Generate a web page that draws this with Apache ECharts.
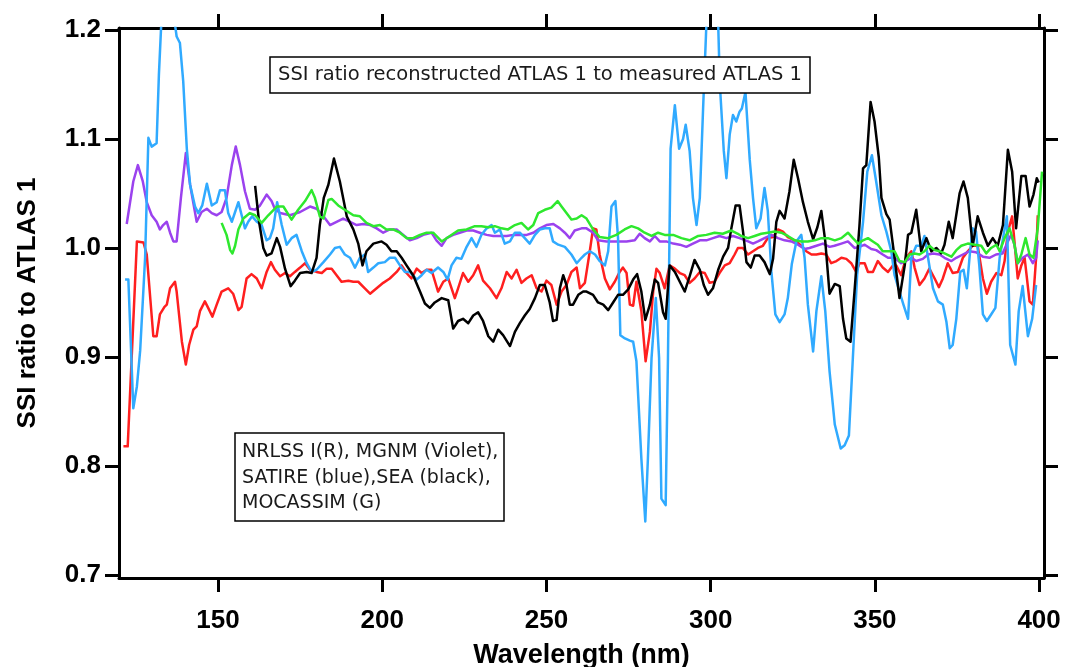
<!DOCTYPE html>
<html>
<head>
<meta charset="utf-8">
<script src="https://cdn.jsdelivr.net/npm/echarts@6.0.0/dist/echarts.min.js"></script>
<style>
  html, body { margin: 0; padding: 0; background: #fff; }
  #chart { width: 1070px; height: 667px; }
</style>
</head>
<body>
<div id="chart"></div>
<script>
// Ratio of reconstructed to measured ATLAS 1 spectral solar irradiance, [wavelength nm, ratio]

const nrlssi = [
  [121.2,0.818],[122.5,0.818],[125.3,1.006],[127.3,1.005],[128.3,0.994],[130.3,0.919],[131.3,0.919],[132.3,0.939],
  [133.7,0.946],[134.4,0.948],[135.4,0.963],[136.9,0.969],[137.4,0.960],[139.0,0.914],[140.2,0.893],[141.2,0.911],
  [142.5,0.925],[143.5,0.928],[144.5,0.942],[146.0,0.951],[147.0,0.945],[148.3,0.937],[149.6,0.948],[151.1,0.960],
  [153.1,0.963],[154.6,0.958],[156.2,0.943],[157.2,0.946],[158.7,0.972],[160.2,0.976],[161.8,0.972],[163.3,0.963],
  [164.8,0.978],[166.1,0.987],[167.3,0.980],[168.9,0.974],[170.4,0.977],[171.9,0.974],[173.4,0.978],[175.0,0.982],
  [176.5,0.986],[178.0,0.980],[180.0,0.978],[181.6,0.977],[183.1,0.981],[184.6,0.981],[186.1,0.975],[187.6,0.969],
  [189.7,0.970],[191.2,0.969],[192.7,0.969],[194.7,0.963],[196.3,0.958],[198.3,0.963],[200.3,0.968],[202.3,0.972],
  [204.4,0.978],[205.9,0.984],[207.4,0.977],[208.9,0.972],[210.5,0.981],[212.0,0.977],[213.5,0.980],[215.0,0.980],
  [217.0,0.960],[218.6,0.969],[220.1,0.972],[222.1,0.954],[223.1,0.963],[224.6,0.977],[226.2,0.969],[227.7,0.975],
  [229.2,0.984],[230.7,0.970],[232.8,0.963],[234.8,0.954],[236.3,0.963],[237.9,0.978],[239.4,0.972],[240.9,0.980],
  [242.4,0.968],[243.9,0.972],[245.5,0.975],[247.0,0.963],[248.5,0.960],[250.0,0.970],[251.5,0.966],[253.1,0.948],
  [254.6,0.960],[256.1,0.966],[257.6,0.978],[259.2,0.982],[260.2,0.963],[261.7,0.968],[263.2,0.997],[264.2,1.018],
  [265.2,1.017],[266.2,0.994],[267.8,0.972],[269.3,0.962],[270.8,0.969],[272.3,0.978],[273.3,0.982],[274.4,0.977],
  [275.4,0.948],[276.4,0.947],[277.4,0.969],[278.9,0.942],[280.2,0.896],[281.5,0.923],[282.5,0.960],[283.5,0.981],
  [284.5,0.977],[286.0,0.963],[287.5,0.984],[289.1,0.981],[290.6,0.977],[292.1,0.975],[293.6,0.968],[295.1,0.972],
  [296.7,0.978],[298.2,0.977],[299.7,0.968],[301.2,0.969],[302.7,0.977],[304.3,0.984],[305.8,0.986],[307.3,0.994],
  [308.3,1.000],[309.8,1.000],[311.4,0.994],[312.9,0.997],[314.4,1.000],[315.9,1.002],[317.4,1.009],[319.0,1.010],
  [320.5,1.017],[322.0,1.015],[323.5,1.010],[325.6,1.007],[327.6,1.002],[329.1,0.997],[330.7,0.994],[332.2,0.994],
  [333.7,0.995],[335.2,0.994],[336.7,0.986],[338.3,0.988],[339.8,0.991],[341.3,0.990],[342.8,0.986],[344.3,0.978],
  [345.3,0.986],[346.9,0.986],[347.9,0.978],[349.4,0.978],[350.9,0.988],[352.4,0.982],[354.0,0.978],[355.5,0.984],
  [356.5,0.984],[358.0,0.975],[359.5,0.991],[361.1,0.997],[362.1,0.982],[363.6,0.966],[365.1,0.972],[366.6,0.981],
  [368.2,0.972],[369.5,0.964],[370.7,0.972],[372.2,0.986],[373.7,0.977],[375.3,0.978],[376.8,0.991],[378.3,0.997],
  [379.8,1.002],[381.3,1.002],[382.9,0.972],[384.1,0.958],[385.4,0.969],[387.0,0.977],[388.5,0.975],[389.5,0.988],
  [390.5,1.015],[391.8,1.029],[392.5,1.006],[393.5,0.972],[394.6,0.984],[395.6,0.991],[397.1,0.951],[398.1,0.948],
  [399.1,0.991],[399.6,1.030]
];

const mgnm = [
  [122.2,1.022],[122.8,1.022],[124.2,1.061],[125.6,1.076],[127.1,1.061],[128.3,1.042],[129.8,1.030],[131.3,1.024],
  [132.3,1.017],[133.3,1.021],[134.4,1.024],[135.4,1.014],[136.4,1.006],[137.4,1.006],[138.7,1.046],[140.2,1.087],
  [141.5,1.058],[143.5,1.024],[145.0,1.033],[146.6,1.036],[148.1,1.032],[149.6,1.030],[151.1,1.033],[152.6,1.046],
  [154.2,1.076],[155.4,1.093],[156.7,1.076],[158.2,1.052],[159.7,1.036],[161.3,1.035],[162.8,1.039],[164.8,1.049],
  [166.3,1.043],[167.3,1.036],[168.9,1.032],[171.9,1.030],[175.0,1.033],[178.0,1.038],[180.0,1.036],[182.1,1.029],
  [184.1,1.021],[186.1,1.024],[188.1,1.027],[190.2,1.024],[192.2,1.021],[194.2,1.022],[196.3,1.021],[198.3,1.018],
  [200.3,1.014],[202.3,1.017],[204.4,1.017],[206.4,1.012],[208.4,1.007],[210.5,1.009],[212.5,1.012],[215.0,1.014],
  [216.5,1.007],[218.1,1.002],[219.6,1.009],[221.6,1.012],[223.6,1.014],[225.7,1.016],[227.7,1.016],[229.7,1.014],
  [231.8,1.012],[233.8,1.011],[235.8,1.011],[237.9,1.011],[239.9,1.012],[241.9,1.012],[244.0,1.012],[246.0,1.014],
  [248.0,1.018],[250.0,1.021],[252.1,1.022],[254.1,1.018],[255.6,1.014],[257.1,1.009],[258.6,1.016],[260.7,1.018],
  [262.2,1.018],[264.2,1.014],[265.7,1.007],[268.3,1.006],[271.3,1.006],[274.4,1.006],[276.9,1.007],[278.4,1.013],
  [279.9,1.009],[281.5,1.006],[283.0,1.011],[284.5,1.006],[286.5,1.006],[288.6,1.004],[290.6,1.003],[292.6,1.001],
  [294.6,1.004],[296.7,1.007],[298.7,1.007],[300.7,1.009],[302.7,1.011],[304.8,1.009],[306.8,1.011],[308.8,1.009],
  [311.4,1.006],[312.9,1.004],[314.4,1.006],[316.4,1.009],[318.5,1.012],[320.5,1.009],[322.5,1.007],[324.6,1.006],
  [326.6,1.003],[328.6,0.999],[330.1,1.000],[332.2,1.002],[334.2,1.004],[336.2,1.001],[337.7,1.002],[339.8,1.004],
  [341.8,1.006],[343.8,1.000],[345.3,1.001],[346.9,1.003],[348.9,0.999],[350.4,0.998],[352.4,0.994],[354.0,0.991],
  [356.0,0.991],[358.0,0.986],[359.5,0.988],[361.1,0.991],[362.6,0.988],[364.6,0.990],[366.2,0.994],[367.7,0.995],
  [369.7,0.994],[371.2,0.991],[373.3,0.988],[374.8,0.991],[376.8,0.994],[378.8,0.997],[380.8,0.996],[382.9,0.992],
  [384.9,0.991],[386.9,0.994],[388.9,0.995],[390.5,1.006],[391.5,1.012],[392.5,1.003],[393.5,0.986],[395.0,0.991],
  [396.6,0.994],[398.1,0.986],[399.1,0.991],[399.6,1.007]
];

const satire = [
  [121.7,0.971],[122.7,0.971],[124.2,0.853],[125.3,0.873],[126.3,0.906],[127.8,0.991],[128.8,1.101],[129.8,1.093],
  [131.3,1.096],[132.0,1.159],[132.6,1.198],[133.5,1.250],[135.5,1.260],[136.9,1.205],[137.4,1.194],[138.4,1.188],
  [139.4,1.153],[140.5,1.091],[141.5,1.058],[143.0,1.038],[144.0,1.032],[145.2,1.039],[146.6,1.059],[148.1,1.039],
  [149.6,1.042],[150.6,1.053],[152.1,1.053],[153.1,1.032],[154.2,1.024],[155.2,1.033],[156.2,1.042],[157.2,1.030],
  [158.2,1.018],[159.2,1.024],[160.4,1.029],[161.8,1.024],[163.3,1.021],[164.8,1.007],[165.8,1.009],[166.8,1.018],
  [168.0,1.042],[169.4,1.021],[170.9,1.003],[172.4,1.009],[173.9,1.012],[175.5,0.997],[177.0,0.986],[178.5,0.978],
  [180.0,0.980],[182.1,0.987],[184.1,0.994],[185.6,1.000],[187.1,1.001],[188.6,0.994],[190.2,0.991],[191.7,0.982],
  [193.2,0.991],[194.7,0.994],[195.7,0.978],[197.3,0.982],[198.8,0.986],[200.8,0.987],[202.3,0.991],[203.9,0.991],
  [205.4,0.984],[206.9,0.978],[208.4,0.978],[210.5,0.971],[212.0,0.975],[213.5,0.980],[215.0,0.977],[217.0,0.982],
  [218.6,0.978],[219.9,0.971],[221.1,0.984],[222.6,0.991],[224.1,0.990],[225.7,1.001],[227.2,1.009],[228.7,1.001],
  [230.2,1.012],[231.8,1.018],[233.3,1.021],[234.3,1.014],[235.8,1.017],[237.3,1.004],[238.9,1.006],[240.4,1.014],
  [241.9,1.014],[243.4,1.009],[244.9,1.004],[246.5,1.012],[248.0,1.017],[249.5,1.018],[251.0,1.018],[252.0,1.006],
  [253.6,1.003],[255.6,1.001],[257.6,0.994],[259.2,0.986],[260.7,0.991],[261.7,0.994],[263.2,0.997],[264.8,0.994],
  [266.2,0.988],[267.8,0.984],[268.8,0.997],[269.8,1.038],[271.0,1.043],[271.8,1.009],[272.5,0.920],[273.9,0.917],
  [275.4,0.915],[276.4,0.914],[277.4,0.896],[278.9,0.807],[280.1,0.749],[280.9,0.807],[282.0,0.899],[283.3,0.954],
  [284.3,0.899],[285.0,0.770],[286.3,0.764],[287.0,0.899],[287.8,1.091],[289.1,1.131],[290.4,1.091],[291.6,1.100],
  [292.4,1.113],[293.6,1.089],[294.6,1.046],[295.7,1.021],[296.7,1.046],[297.7,1.128],[298.7,1.205],[300.5,1.240],
  [302.3,1.205],[302.8,1.150],[304.0,1.089],[304.8,1.064],[305.8,1.104],[306.8,1.122],[307.8,1.116],[308.8,1.125],
  [309.5,1.128],[310.6,1.143],[311.9,1.081],[312.9,1.046],[313.9,1.018],[315.2,1.027],[316.4,1.055],[317.4,1.034],
  [318.5,0.978],[319.7,0.939],[321.0,0.932],[322.5,0.939],[323.5,0.954],[324.7,0.985],[326.1,1.006],[327.6,1.012],
  [328.6,0.991],[329.6,0.948],[331.2,0.905],[332.2,0.942],[333.7,0.974],[334.9,0.942],[336.2,0.887],[337.8,0.838],
  [339.6,0.816],[340.8,0.819],[342.1,0.828],[343.3,0.899],[344.6,0.975],[346.4,1.024],[347.7,1.070],[349.1,1.085],
  [350.4,1.061],[352.0,1.030],[353.5,1.015],[355.0,0.997],[356.0,0.975],[357.5,0.960],[358.7,0.948],[360.1,0.935],
  [361.1,0.991],[362.6,1.002],[364.1,1.002],[365.1,1.011],[366.2,0.991],[367.7,0.963],[369.2,0.951],[370.7,0.948],
  [371.8,0.932],[372.8,0.908],[373.7,0.911],[374.8,0.935],[376.0,0.978],[377.0,0.980],[378.0,0.963],[379.0,0.997],
  [379.8,1.018],[380.8,1.015],[381.8,0.984],[382.9,0.939],[384.1,0.933],[385.4,0.939],[386.7,0.945],[388.0,0.991],
  [389.2,1.012],[390.2,1.029],[391.2,0.911],[392.8,0.893],[393.8,0.942],[395.0,0.965],[396.6,0.919],[397.9,0.935],
  [399.1,0.966]
];

const sea = [
  [161.3,1.057],[162.5,1.024],[163.8,1.000],[164.8,0.993],[166.3,0.995],[167.9,1.009],[168.9,1.001],[170.4,0.981],
  [172.1,0.965],[173.4,0.970],[175.0,0.977],[177.0,0.978],[178.5,0.977],[180.0,0.991],[181.0,1.021],[182.2,1.046],
  [183.6,1.058],[185.3,1.082],[187.1,1.061],[189.2,1.029],[191.2,1.017],[192.7,1.004],[194.0,0.984],[195.2,0.997],
  [197.3,1.004],[199.8,1.006],[201.3,1.003],[202.8,0.997],[204.4,0.997],[205.9,0.991],[207.4,0.984],[209.4,0.975],
  [211.5,0.960],[213.0,0.949],[214.5,0.945],[216.0,0.950],[218.1,0.954],[220.1,0.952],[221.6,0.926],[223.1,0.933],
  [224.6,0.935],[226.2,0.931],[227.7,0.938],[229.2,0.941],[230.7,0.933],[232.3,0.919],[233.8,0.914],[235.3,0.925],
  [236.8,0.920],[238.9,0.910],[240.4,0.923],[241.9,0.931],[243.4,0.938],[244.9,0.944],[246.5,0.954],[248.0,0.966],
  [249.5,0.966],[251.0,0.950],[252.0,0.933],[253.1,0.934],[254.1,0.963],[255.1,0.975],[256.1,0.966],[257.1,0.948],
  [258.1,0.948],[259.7,0.957],[261.2,0.960],[262.2,0.960],[264.2,0.957],[265.7,0.950],[267.3,0.948],[268.8,0.943],
  [270.3,0.950],[271.8,0.957],[273.3,0.957],[274.9,0.962],[276.4,0.971],[277.6,0.976],[278.9,0.960],[280.1,0.934],
  [281.5,0.948],[283.0,0.971],[284.0,0.968],[285.5,0.941],[286.3,0.935],[287.5,0.984],[289.1,0.978],[290.6,0.969],
  [292.1,0.960],[293.6,0.974],[295.1,0.989],[296.7,0.980],[297.9,0.966],[299.2,0.957],[300.7,0.963],[302.3,0.980],
  [303.8,0.992],[305.3,1.000],[306.3,1.018],[307.6,1.039],[308.8,1.039],[309.9,1.014],[310.9,0.987],[312.2,0.982],
  [313.4,0.993],[314.9,0.993],[316.4,0.987],[318.0,0.976],[319.0,0.990],[320.0,1.024],[321.0,1.034],[322.5,1.027],
  [324.0,1.052],[325.3,1.081],[326.6,1.064],[328.1,1.042],[329.6,1.024],[331.2,1.008],[332.5,1.019],[333.7,1.034],
  [334.9,1.006],[336.2,0.958],[337.8,0.967],[339.3,0.965],[340.3,0.935],[341.3,0.917],[342.6,0.914],[343.8,0.960],
  [345.3,1.020],[346.4,1.073],[347.4,1.076],[348.7,1.134],[349.9,1.116],[351.2,1.083],[352.0,1.046],[353.5,1.031],
  [354.5,1.026],[356.0,0.991],[357.5,0.954],[359.1,0.984],[360.1,1.012],[361.1,1.014],[362.6,1.035],[364.1,0.997],
  [365.7,1.009],[367.2,0.997],[368.7,1.000],[370.2,0.995],[371.2,1.003],[372.5,1.024],[373.7,1.009],[375.8,1.050],
  [377.0,1.061],[378.3,1.046],[379.8,1.002],[381.3,1.029],[382.9,1.014],[384.4,1.002],[385.9,1.009],[387.4,1.002],
  [389.0,1.021],[390.5,1.090],[391.8,1.070],[393.0,1.018],[394.6,1.066],[395.9,1.066],[397.1,1.038],[398.3,1.049],
  [399.3,1.064],[399.9,1.060]
];

const mocassim = [
  [151.1,1.023],[152.6,1.012],[153.7,0.998],[154.4,0.995],[155.2,1.002],[156.2,1.017],[157.7,1.027],[159.7,1.032],
  [161.3,1.030],[163.3,1.023],[165.3,1.030],[167.9,1.038],[169.9,1.038],[172.4,1.026],[174.4,1.035],[176.5,1.043],
  [178.5,1.053],[179.5,1.046],[181.0,1.029],[182.1,1.027],[183.6,1.044],[184.6,1.045],[186.6,1.039],[188.6,1.035],
  [191.2,1.030],[193.2,1.029],[195.2,1.023],[197.3,1.020],[199.3,1.021],[201.3,1.017],[203.3,1.017],[205.4,1.014],
  [207.4,1.009],[209.4,1.009],[211.5,1.012],[213.5,1.014],[215.5,1.014],[218.1,1.006],[220.6,1.011],[223.1,1.016],
  [225.7,1.017],[228.2,1.020],[230.2,1.020],[232.3,1.019],[234.3,1.020],[236.3,1.018],[238.3,1.017],[240.4,1.021],
  [242.4,1.023],[244.4,1.017],[246.0,1.021],[247.5,1.032],[249.5,1.035],[251.5,1.037],[253.4,1.043],[254.6,1.038],
  [256.1,1.032],[257.6,1.026],[259.2,1.027],[260.7,1.030],[262.2,1.027],[264.2,1.017],[266.2,1.010],[268.8,1.009],
  [271.3,1.012],[273.8,1.017],[275.9,1.020],[277.9,1.018],[279.9,1.014],[282.0,1.011],[284.0,1.014],[286.0,1.012],
  [288.6,1.012],[291.1,1.009],[293.6,1.007],[296.2,1.011],[298.7,1.012],[301.2,1.014],[303.7,1.013],[306.3,1.016],
  [308.3,1.013],[309.3,1.011],[311.4,1.009],[313.4,1.011],[315.4,1.013],[317.4,1.014],[319.5,1.015],[321.5,1.014],
  [323.5,1.011],[325.6,1.007],[327.6,1.006],[329.6,1.006],[331.7,1.007],[333.7,1.009],[335.7,1.009],[337.8,1.007],
  [339.8,1.009],[341.8,1.014],[343.3,1.009],[344.9,1.004],[346.4,1.007],[347.9,1.009],[349.4,1.006],[350.9,1.003],
  [352.4,0.997],[354.0,0.997],[356.0,0.997],[357.5,0.988],[359.1,0.987],[360.6,0.994],[362.1,0.995],[363.6,0.994],
  [365.1,0.997],[366.6,1.002],[368.2,0.998],[369.7,0.997],[371.2,0.995],[373.3,0.992],[374.8,0.998],[376.3,1.002],
  [378.3,1.004],[380.4,1.003],[382.4,1.002],[383.9,0.995],[385.4,1.000],[387.0,1.003],[388.0,0.997],[389.5,1.009],
  [391.0,1.018],[392.5,1.003],[393.5,0.986],[394.6,0.994],[395.9,1.009],[397.1,0.994],[398.3,0.991],[399.6,1.018],
  [400.9,1.070]
];

// Axis ranges and tick positions
const xRange = [119.85, 401.5];
const yRange = [0.6972, 1.2018];
const xTickValues = [150, 200, 250, 300, 350, 400];
const yTickValues = [0.7, 0.8, 0.9, 1.0, 1.1, 1.2];

const titleText = 'SSI ratio reconstructed ATLAS 1 to measured ATLAS 1';
const legendText = 'NRLSS I(R), MGNM (Violet),\nSATIRE (blue),SEA (black),\nMOCASSIM (G)';

const seriesDefs = [
  { name: 'NRLSS I', data: nrlssi, color: '#ff1f1f' },
  { name: 'MGNM', data: mgnm, color: '#9b42ee' },
  { name: 'SATIRE', data: satire, color: '#30aaff' },
  { name: 'SEA', data: sea, color: '#000000' },
  { name: 'MOCASSIM', data: mocassim, color: '#2ee82e' }
];

const FONT = '"Liberation Sans", Arial, Helvetica, sans-serif';
const NOTE_FONT = '"DejaVu Sans", "Noto Sans", sans-serif';

const frameLine = { show: true, onZero: false, lineStyle: { color: '#000', width: 3 } };
const frameTick = (vals) => ({
  show: true, inside: false, length: 14, customValues: vals,
  lineStyle: { color: '#000', width: 3 }
});
const tickLabel = (vals, margin, fmt) => ({
  show: true, customValues: vals, margin: margin, formatter: fmt,
  color: '#000', fontSize: 26, fontWeight: 'bold', fontFamily: FONT
});

const chart = echarts.init(document.getElementById('chart'), null, { renderer: 'canvas' });

chart.setOption({
  animation: false,
  backgroundColor: '#fff',
  grid: { left: 119, right: 26, top: 28, bottom: 89, containLabel: false, outerBoundsMode: 'none' },
  xAxis: [
    {
      type: 'value', position: 'bottom', min: xRange[0], max: xRange[1],
      axisLine: frameLine, axisTick: frameTick(xTickValues),
      axisLabel: tickLabel(xTickValues, 30, (v) => String(Math.round(v))),
      splitLine: { show: false },
      name: 'Wavelength (nm)', nameLocation: 'middle', nameGap: 64,
      nameTextStyle: { color: '#000', fontSize: 27, fontWeight: 'bold', fontFamily: FONT }
    },
    {
      type: 'value', position: 'top', min: xRange[0], max: xRange[1],
      axisLine: frameLine, axisTick: frameTick(xTickValues),
      axisLabel: { show: false }, splitLine: { show: false }
    }
  ],
  yAxis: [
    {
      type: 'value', position: 'left', min: yRange[0], max: yRange[1],
      axisLine: frameLine, axisTick: frameTick(yTickValues),
      axisLabel: tickLabel(yTickValues, 18, (v) => v.toFixed(1)),
      splitLine: { show: false },
      name: 'SSI ratio to ATLAS 1', nameLocation: 'middle', nameGap: 78, nameRotate: 90,
      nameTextStyle: { color: '#000', fontSize: 26, fontWeight: 'bold', fontFamily: FONT }
    },
    {
      type: 'value', position: 'right', min: yRange[0], max: yRange[1],
      axisLine: frameLine, axisTick: frameTick(yTickValues),
      axisLabel: { show: false }, splitLine: { show: false }
    }
  ],
  series: seriesDefs.map((s, i) => ({
    name: s.name,
    type: 'line',
    xAxisIndex: 0,
    yAxisIndex: 0,
    data: s.data,
    showSymbol: false,
    symbol: 'none',
    clip: true,
    z: 2 + i,
    lineStyle: { color: s.color, width: 2.5, join: 'round' }
  })),
  graphic: [
    {
      type: 'rect', z: 100,
      shape: { x: 270, y: 57, width: 540, height: 36 },
      style: { fill: '#fff', stroke: '#000', lineWidth: 1.5 }
    },
    {
      type: 'text', z: 101, x: 540, y: 75,
      style: {
        text: titleText, fill: '#1a1a1a', fontSize: 19.5, fontFamily: NOTE_FONT,
        align: 'center', verticalAlign: 'middle'
      }
    },
    {
      type: 'rect', z: 100,
      shape: { x: 235, y: 433, width: 269, height: 88 },
      style: { fill: '#fff', stroke: '#000', lineWidth: 1.5 }
    },
    {
      type: 'text', z: 101, x: 242, y: 478,
      style: {
        text: legendText, fill: '#1a1a1a', fontSize: 19, fontFamily: NOTE_FONT,
        lineHeight: 25.5, align: 'left', verticalAlign: 'middle'
      }
    }
  ]
});
</script>
</body>
</html>
